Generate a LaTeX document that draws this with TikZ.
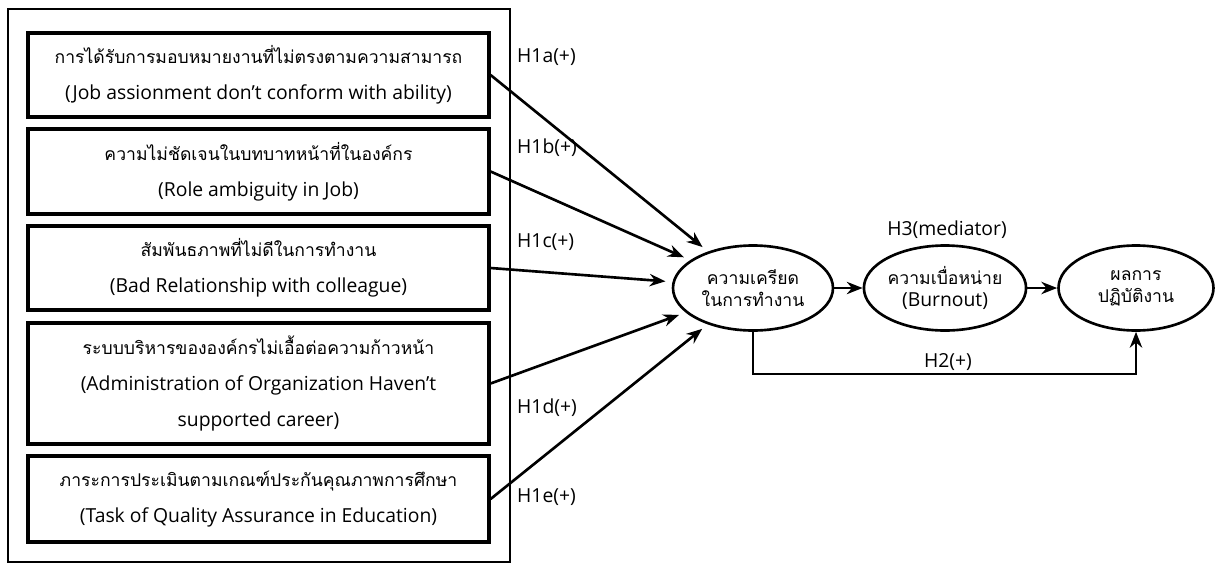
\documentclass[tikz,border=0pt]{standalone}
\usepackage{fontspec}
\setmainfont{Open Sans}
\newfontfamily\thaifont[Script=Thai,Scale=0.91]{Loma}
\usetikzlibrary{shapes.geometric,arrows.meta}

\begin{document}
\begin{tikzpicture}[>={Stealth[length=9pt,width=7pt]}, line width=1.5pt]
\tikzstyle{every node}=[font=\fontsize{11}{20.5}\selectfont];
\tikzstyle{factor}=[draw, line width=1.8pt, rectangle, minimum width=9.22cm, align=center, inner sep=0pt];
\tikzstyle{latent}=[draw, ellipse, minimum height=1.7cm, align=center, inner sep=0pt, font=\fontsize{11}{12.5}\selectfont];
\tikzstyle{hyp}=[anchor=west];
\useasboundingbox (0,0) rectangle (24.3,-11.28);
\draw[line width=1pt] (0.16,-0.18) rectangle (10.2,-11.24); % frame
\node [factor, minimum height=1.68cm] (f1) at (5.17,-1.5) {{\thaifont การได้รับการมอบหมายงานที่ไม่ตรงตามความสามารถ}\\(Job assionment don’t conform with ability)};
\node [factor, minimum height=1.7cm] (f2) at (5.17,-3.43) {{\thaifont ความไม่ชัดเจนในบทบาทหน้าที่ในองค์กร}\\(Role ambiguity in Job)};
\node [factor, minimum height=1.68cm] (f3) at (5.17,-5.36) {{\thaifont สัมพันธภาพที่ไม่ดีในการทำงาน}\\(Bad Relationship with colleague)};
\node [factor, minimum height=2.42cm] (f4) at (5.17,-7.67) {{\thaifont ระบบบริหารขององค์กรไม่เอื้อต่อความก้าวหน้า}\\(Administration of Organization Haven’t\\supported career)};
\node [factor, minimum height=1.72cm] (f5) at (5.17,-9.98) {{\thaifont ภาระการประเมินตามเกณฑ์ประกันคุณภาพการศึกษา}\\(Task of Quality Assurance in Education)};
\node [latent, minimum width=3.2cm] (stress) at (15.06,-5.76) {{\thaifont ความเครียด}\\{\thaifont ในการทำงาน}};
\node [latent, minimum width=3.2cm] (burnout) at (18.9,-5.76) {{\thaifont ความเบื่อหน่าย}\\(Burnout)};
\node [latent, minimum width=3.1cm] (perform) at (22.72,-5.76) {{\thaifont ผลการ}\\{\thaifont ปฏิบัติงาน}};
\node [hyp] (h1a) at (10.2,-1.15) {H1a(+)};
\node [hyp] (h1b) at (10.2,-2.95) {H1b(+)};
\node [hyp] (h1c) at (10.2,-4.85) {H1c(+)};
\node [hyp] (h1d) at (10.2,-8.15) {H1d(+)};
\node [hyp] (h1e) at (10.2,-9.95) {H1e(+)};
\node (h3) at (18.94,-4.6) {H3(mediator)};
\node (h2) at (18.96,-7.24) {H2(+)};
\coordinate (bend) at (18.96,-7.48);
\draw[->, shorten >=4pt] (f1.east) -- (stress);
\draw[->, shorten >=4pt] (f2.east) -- (stress);
\draw[->, shorten >=4pt] (f3.east) -- (stress);
\draw[->, shorten >=4pt] (f4.east) -- (stress);
\draw[->, shorten >=4pt] (f5.east) -- (stress);
\draw[->] (stress) -- (burnout);
\draw[->] (burnout) -- (perform);
\draw[->] (stress.south) |- (bend) -| (perform.south); % direct path
\end{tikzpicture}
\end{document}
